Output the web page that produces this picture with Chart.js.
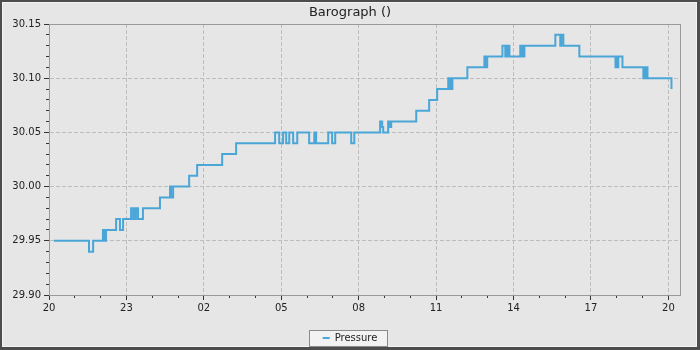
<!DOCTYPE html>
<html>
<head>
<meta charset="utf-8">
<script src="https://cdn.jsdelivr.net/npm/chart.js@4/dist/chart.umd.min.js"></script>
<style>
html,body{margin:0;padding:0;background:#e6e6e6;}
#wrap{width:700px;height:350px;}
canvas{display:block;}
</style>
</head>
<body>
<div id="wrap"><canvas id="c" width="700" height="350"></canvas></div>
<script>
// ---- data (hours after 20:00 on the first day, pressure in inHg) ----
const chartTitle = 'Barograph ()';
const seriesName = 'Pressure';
const hours = [
  0.19, 1.55, 1.71, 2.09, 2.15, 2.21, 2.60, 2.75, 2.87, 3.18,
  3.26, 3.30, 3.33, 3.37, 3.45, 3.64, 4.30, 4.69, 4.73, 4.81,
  5.43, 5.74, 6.71, 7.25, 8.76, 8.92, 9.07, 9.19, 9.31, 9.46,
  9.62, 10.08, 10.28, 10.35, 10.82, 10.97, 11.09, 11.71, 11.83, 12.83,
  12.91, 12.95, 13.14, 13.22, 13.26, 14.23, 14.73, 15.04, 15.47, 15.51,
  15.55, 15.59, 15.63, 16.21, 16.87, 16.91, 16.98, 17.57, 17.68, 17.72,
  17.76, 17.80, 17.84, 18.26, 18.30, 18.34, 18.38, 18.42, 19.62, 19.81,
  19.85, 19.93, 20.55, 21.95, 21.99, 22.02, 22.06, 22.22, 23.03, 23.07,
  23.11, 23.15, 23.19, 24.12
];
const pressure = [
  29.95, 29.94, 29.95, 29.96, 29.95, 29.96, 29.97, 29.96, 29.97, 29.98,
  29.97, 29.98, 29.97, 29.98, 29.97, 29.98, 29.99, 30.00, 29.99, 30.00,
  30.01, 30.02, 30.03, 30.04, 30.05, 30.04, 30.05, 30.04, 30.05, 30.04,
  30.05, 30.04, 30.05, 30.04, 30.05, 30.04, 30.05, 30.04, 30.05, 30.06,
  30.055, 30.05, 30.06, 30.055, 30.06, 30.07, 30.08, 30.09, 30.10, 30.09,
  30.10, 30.09, 30.10, 30.11, 30.12, 30.11, 30.12, 30.13, 30.12, 30.13,
  30.12, 30.13, 30.12, 30.13, 30.12, 30.13, 30.12, 30.13, 30.14, 30.13,
  30.14, 30.13, 30.12, 30.11, 30.12, 30.11, 30.12, 30.11, 30.10, 30.11,
  30.10, 30.11, 30.10, 30.09
];
const xTickHours  = [0, 3, 6, 9, 12, 15, 18, 21, 24];
const xTickLabels = ['20', '23', '02', '05', '08', '11', '14', '17', '20'];
const xMin = 0, xMax = 24.45;
const yMin = 29.90, yMax = 30.15, yStep = 0.05, yMinorStep = 0.01;

const FONT = 'DejaVu Sans';
const LINE_COLOR = '#4ba6d8';

const framePlugin = {
  id: 'frame',
  beforeDraw(chart) {
    const ctx = chart.ctx, W = chart.width, H = chart.height;
    ctx.save();
    ctx.fillStyle = '#4d4d4d'; ctx.fillRect(0, 0, W, H);
    ctx.fillStyle = '#f4f4f4'; ctx.fillRect(2, 2, W - 5, H - 5);
    ctx.fillStyle = '#e6e6e6'; ctx.fillRect(3, 3, W - 7, H - 7);
    const lg = chart.legend;
    if (lg && lg.legendHitBoxes && lg.legendHitBoxes.length) {
      const hb = lg.legendHitBoxes[0];
      const cy = hb.top + hb.height / 2;
      const l = Math.round(hb.left - 14) + 0.5;
      const r = Math.round(hb.left + hb.width + 10) + 0.5;
      const t = Math.round(cy - 8) + 0.5;
      ctx.fillStyle = '#f2f2f2';
      ctx.fillRect(l, t, r - l, 16);
      ctx.strokeStyle = '#8a8a8a'; ctx.lineWidth = 1;
      ctx.strokeRect(l, t, r - l, 16);
    }
    ctx.restore();
  },
  afterDraw(chart) {
    const a = chart.chartArea, ctx = chart.ctx;
    ctx.save();
    ctx.strokeStyle = '#9a9a9a'; ctx.lineWidth = 1;
    const l = Math.round(a.left) + 0.5, t = Math.round(a.top) + 0.5;
    const r = Math.round(a.right) + 0.5, b = Math.round(a.bottom) + 0.5;
    ctx.strokeRect(l, t, r - l, b - t);
    ctx.restore();
  }
};

const near = (a, b) => Math.abs(a - b) < 1e-6;

new Chart(document.getElementById('c'), {
  type: 'line',
  data: {
    datasets: [{
      label: seriesName,
      data: hours.map((h, i) => ({ x: h, y: pressure[i] })),
      borderColor: LINE_COLOR,
      backgroundColor: LINE_COLOR,
      borderWidth: 2,
      pointRadius: 0,
      pointHoverRadius: 0,
      stepped: true,
      fill: false,
      xAxisID: 'x',
      yAxisID: 'y'
    }]
  },
  options: {
    responsive: false,
    animation: false,
    devicePixelRatio: 1,
    layout: { padding: { left: 0, right: 0, top: 0, bottom: -3 } },
    plugins: {
      title: {
        display: true, text: chartTitle, color: '#222',
        font: { family: FONT, size: 13, weight: 'normal' },
        padding: { top: 5, bottom: 3.4 }
      },
      legend: {
        position: 'bottom',
        labels: {
          usePointStyle: true, pointStyle: 'line', pointStyleWidth: 7,
          color: '#222', font: { family: FONT, size: 10 }, padding: 4
        }
      },
      tooltip: { enabled: false }
    },
    scales: {
      x: {
        type: 'linear', position: 'bottom', weight: 1, min: xMin, max: xMax,
        afterFit(s) { s.height = 34; },
        ticks: {
          stepSize: 3, includeBounds: false, autoSkip: false, maxRotation: 0,
          color: '#222', font: { family: FONT, size: 10 }, padding: 2,
          callback: (v) => { const i = xTickHours.findIndex(h => near(h, v)); return i >= 0 ? xTickLabels[i] : ''; }
        },
        grid: {
          color: (c) => (c.tick && near(c.tick.value, xMin)) ? 'rgba(0,0,0,0)' : '#bdbdbd',
          lineWidth: 1, tickLength: 5, tickColor: '#333'
        },
        border: { display: true, color: '#9a9a9a', dash: [4, 2] }
      },
      xMinor: {
        type: 'linear', position: 'bottom', weight: 0, min: xMin, max: xMax,
        afterFit(s) { s.height = 0; },
        ticks: { display: false, stepSize: 1, includeBounds: false },
        grid: { drawOnChartArea: false, tickLength: 3, tickColor: '#333' },
        border: { display: false }
      },
      y: {
        type: 'linear', position: 'left', weight: 1, min: yMin, max: yMax,
        afterFit(s) { s.width = 49; },
        ticks: {
          stepSize: yStep, color: '#222', font: { family: FONT, size: 10 }, padding: 3,
          callback: (v) => Number(v).toFixed(2)
        },
        grid: {
          color: (c) => (c.tick && (near(c.tick.value, yMin) || near(c.tick.value, yMax))) ? 'rgba(0,0,0,0)' : '#bdbdbd',
          lineWidth: 1, tickLength: 5, tickColor: '#333'
        },
        border: { display: true, color: '#9a9a9a', dash: [4, 2] }
      },
      yMinor: {
        type: 'linear', position: 'left', weight: 0, min: yMin, max: yMax,
        afterFit(s) { s.width = 0; },
        ticks: { display: false, stepSize: yMinorStep },
        grid: { drawOnChartArea: false, tickLength: 3, tickColor: '#333' },
        border: { display: false }
      },
      yRightSpace: {
        type: 'linear', position: 'right', min: yMin, max: yMax,
        afterFit(s) { s.width = 20; },
        ticks: { display: false },
        grid: { display: false },
        border: { display: false }
      }
    }
  },
  plugins: [framePlugin]
});
</script>
</body>
</html>
